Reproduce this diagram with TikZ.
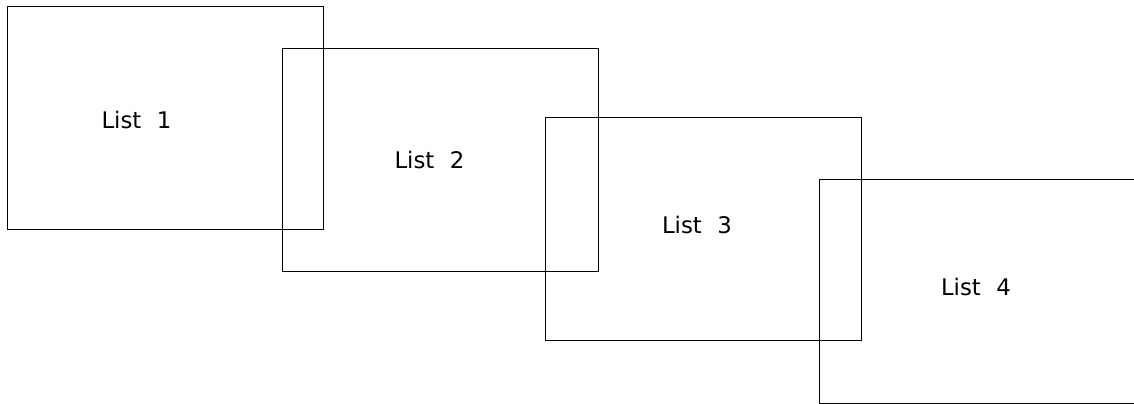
\documentclass[tikz,border=0pt]{standalone}
\usepackage{fontspec}
\setmainfont{DejaVu Sans}
\begin{document}
\begin{tikzpicture}[x=0.02cm,y=-0.02cm,line width=0.55pt]
\useasboundingbox (0,0) rectangle (1134,404);
\tikzset{sheet/.style={draw, rectangle, inner sep=0pt, minimum width=6.34cm, minimum height=4.48cm}}
\tikzset{tag/.style={font=\fontsize{13}{15}\selectfont, inner sep=0pt}}
\node[sheet] (s1) at (165.5,118) {};
\node[sheet] (s2) at (440.5,160) {};
\node[sheet] (s3) at (703.5,229) {};
\node[sheet] (s4) at (977.5,291.5) {};

\node[tag] (t1) at (136.5,120) {List\hspace{0.68em}1};
\node[tag] (t2) at (429.5,159.5) {List\hspace{0.68em}2};
\node[tag] (t3) at (697,225) {List\hspace{0.68em}3};
\node[tag] (t4) at (976,287) {List\hspace{0.68em}4};
\end{tikzpicture}
\end{document}
